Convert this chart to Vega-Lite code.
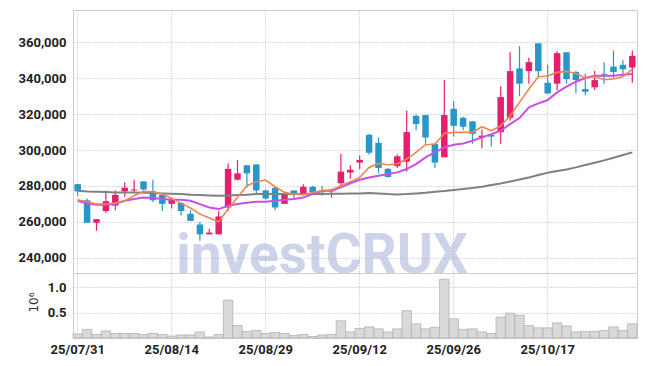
{
  "$schema": "https://vega.github.io/schema/vega-lite/v6.json",
  "padding": {"left": 17, "top": 9, "right": 9, "bottom": 5},
  "background": "white",
  "spacing": 0,
  "bounds": "flush",
  "config": {
    "view": {"stroke": "#cfcfcf", "strokeWidth": 1},
    "axis": {
      "labelFont": "Roboto", "labelFontSize": 13, "labelFontWeight": "bold", "labelColor": "#222222",
      "gridColor": "#b4b4c8", "gridDash": [1, 2], "gridWidth": 1,
      "ticks": false, "domain": false, "title": null
    }
  },
  "data": {"values": [
    {"date":"25/07/31","open":281000,"high":281000,"low":274500,"close":277000,"volume":80000,"ma5":272300,"ma20":271750,"ma60":277320},
    {"date":"25/08/01","open":272000,"high":273000,"low":259500,"close":259500,"volume":170000,"ma5":271190,"ma20":270260,"ma60":276950},
    {"date":"25/08/04","open":259500,"high":261500,"low":255000,"close":261500,"volume":70000,"ma5":269890,"ma20":269520,"ma60":276760},
    {"date":"25/08/05","open":266000,"high":277500,"low":265000,"close":271500,"volume":140000,"ma5":269890,"ma20":269520,"ma60":276570},
    {"date":"25/08/06","open":269000,"high":277500,"low":266500,"close":275000,"volume":90000,"ma5":270440,"ma20":269890,"ma60":276390},
    {"date":"25/08/07","open":277000,"high":282000,"low":274000,"close":279000,"volume":90000,"ma5":271750,"ma20":271750,"ma60":276390},
    {"date":"25/08/08","open":277500,"high":283500,"low":276000,"close":278000,"volume":90000,"ma5":274530,"ma20":272670,"ma60":276390},
    {"date":"25/08/11","open":282500,"high":282500,"low":277500,"close":278000,"volume":70000,"ma5":276950,"ma20":273600,"ma60":276200},
    {"date":"25/08/12","open":277000,"high":283500,"low":271000,"close":272000,"volume":90000,"ma5":276760,"ma20":273230,"ma60":276020},
    {"date":"25/08/13","open":275000,"high":275500,"low":266000,"close":270000,"volume":70000,"ma5":275460,"ma20":272670,"ma60":275830},
    {"date":"25/08/14","open":270000,"high":273500,"low":267500,"close":272500,"volume":40000,"ma5":273050,"ma20":272300,"ma60":275650},
    {"date":"25/08/18","open":270500,"high":271000,"low":263500,"close":266000,"volume":60000,"ma5":270260,"ma20":272300,"ma60":275460},
    {"date":"25/08/19","open":264500,"high":266500,"low":260500,"close":260500,"volume":60000,"ma5":267660,"ma20":271750,"ma60":275090},
    {"date":"25/08/20","open":258500,"high":260000,"low":249500,"close":253000,"volume":120000,"ma5":264310,"ma20":269890,"ma60":274900},
    {"date":"25/08/21","open":253000,"high":256000,"low":253000,"close":254000,"volume":20000,"ma5":262080,"ma20":268030,"ma60":274720},
    {"date":"25/08/22","open":253000,"high":266000,"low":253000,"close":263000,"volume":70000,"ma5":260040,"ma20":267100,"ma60":274530},
    {"date":"25/08/25","open":268000,"high":292500,"low":266000,"close":289500,"volume":750000,"ma5":267100,"ma20":268960,"ma60":274720},
    {"date":"25/08/26","open":283500,"high":294500,"low":283000,"close":287000,"volume":245000,"ma5":273600,"ma20":269890,"ma60":274900},
    {"date":"25/08/27","open":291500,"high":291500,"low":279000,"close":287000,"volume":130000,"ma5":280110,"ma20":270630,"ma60":275090},
    {"date":"25/08/28","open":292000,"high":292000,"low":276000,"close":277500,"volume":150000,"ma5":282340,"ma20":271190,"ma60":275460},
    {"date":"25/08/29","open":277500,"high":278000,"low":272500,"close":273000,"volume":90000,"ma5":283270,"ma20":271190,"ma60":275460},
    {"date":"25/09/01","open":279000,"high":279500,"low":266500,"close":268000,"volume":110000,"ma5":279550,"ma20":271750,"ma60":275460},
    {"date":"25/09/02","open":270000,"high":276500,"low":270000,"close":276000,"volume":90000,"ma5":276390,"ma20":272300,"ma60":275460},
    {"date":"25/09/03","open":277500,"high":277500,"low":272500,"close":275000,"volume":50000,"ma5":275460,"ma20":272670,"ma60":275460},
    {"date":"25/09/04","open":275500,"high":281000,"low":275000,"close":279500,"volume":70000,"ma5":275090,"ma20":273600,"ma60":275460},
    {"date":"25/09/05","open":279500,"high":280000,"low":275000,"close":276500,"volume":30000,"ma5":276390,"ma20":275460,"ma60":275460},
    {"date":"25/09/08","open":277500,"high":280000,"low":274500,"close":276500,"volume":60000,"ma5":277320,"ma20":277320,"ma60":275460},
    {"date":"25/09/09","open":277000,"high":278500,"low":273500,"close":278000,"volume":70000,"ma5":277690,"ma20":277320,"ma60":275650},
    {"date":"25/09/10","open":281500,"high":298000,"low":280000,"close":288000,"volume":340000,"ma5":280110,"ma20":279180,"ma60":275650},
    {"date":"25/09/11","open":287500,"high":291500,"low":284000,"close":289000,"volume":120000,"ma5":282340,"ma20":281410,"ma60":275830},
    {"date":"25/09/12","open":293000,"high":297000,"low":289500,"close":294500,"volume":190000,"ma5":284750,"ma20":283450,"ma60":275830},
    {"date":"25/09/15","open":308500,"high":309000,"low":297500,"close":298500,"volume":220000,"ma5":290330,"ma20":284750,"ma60":276020},
    {"date":"25/09/16","open":304000,"high":307000,"low":287000,"close":290000,"volume":180000,"ma5":292560,"ma20":285680,"ma60":275830},
    {"date":"25/09/17","open":289500,"high":290000,"low":284500,"close":285000,"volume":120000,"ma5":291810,"ma20":286610,"ma60":275460},
    {"date":"25/09/18","open":291000,"high":297500,"low":290000,"close":296500,"volume":180000,"ma5":292180,"ma20":287540,"ma60":275280},
    {"date":"25/09/19","open":293500,"high":322000,"low":288000,"close":310000,"volume":540000,"ma5":294970,"ma20":289400,"ma60":275460},
    {"date":"25/09/22","open":319000,"high":320000,"low":311000,"close":314500,"volume":280000,"ma5":298690,"ma20":292180,"ma60":275830},
    {"date":"25/09/23","open":319500,"high":319500,"low":303500,"close":307000,"volume":180000,"ma5":302960,"ma20":295900,"ma60":276200},
    {"date":"25/09/24","open":303500,"high":303500,"low":290000,"close":293000,"volume":210000,"ma5":303330,"ma20":298690,"ma60":276760},
    {"date":"25/09/25","open":296000,"high":339000,"low":296000,"close":319500,"volume":1160000,"ma5":309280,"ma20":301470,"ma60":277130},
    {"date":"25/09/26","open":323000,"high":327000,"low":307500,"close":313500,"volume":380000,"ma5":309830,"ma20":302960,"ma60":277690},
    {"date":"25/09/29","open":318000,"high":318500,"low":311000,"close":313000,"volume":170000,"ma5":309830,"ma20":303700,"ma60":278250},
    {"date":"25/09/30","open":316000,"high":316000,"low":303500,"close":309000,"volume":180000,"ma5":309830,"ma20":305190,"ma60":278800},
    {"date":"25/10/01","open":307000,"high":311500,"low":301000,"close":308000,"volume":120000,"ma5":312990,"ma20":307050,"ma60":279550},
    {"date":"25/10/02","open":308500,"high":308500,"low":302000,"close":307500,"volume":90000,"ma5":310760,"ma20":308900,"ma60":280480},
    {"date":"25/10/10","open":310000,"high":335500,"low":303500,"close":329500,"volume":410000,"ma5":313550,"ma20":310760,"ma60":281410},
    {"date":"25/10/13","open":318000,"high":354500,"low":316500,"close":344000,"volume":490000,"ma5":319120,"ma20":314480,"ma60":282520},
    {"date":"25/10/14","open":345500,"high":358000,"low":330000,"close":337000,"volume":450000,"ma5":326560,"ma20":317820,"ma60":283640},
    {"date":"25/10/15","open":344000,"high":351500,"low":337000,"close":349000,"volume":245000,"ma5":333990,"ma20":323770,"ma60":284750},
    {"date":"25/10/16","open":359500,"high":359500,"low":341000,"close":344000,"volume":200000,"ma5":340860,"ma20":326000,"ma60":286050},
    {"date":"25/10/17","open":337500,"high":347500,"low":331500,"close":331500,"volume":200000,"ma5":341230,"ma20":327860,"ma60":287350},
    {"date":"25/10/20","open":337000,"high":355000,"low":333500,"close":354000,"volume":300000,"ma5":343280,"ma20":332130,"ma60":288280},
    {"date":"25/10/21","open":354500,"high":354500,"low":337000,"close":339500,"volume":240000,"ma5":343840,"ma20":335290,"ma60":289210},
    {"date":"25/10/22","open":343500,"high":344000,"low":332000,"close":339000,"volume":120000,"ma5":342720,"ma20":338080,"ma60":290330},
    {"date":"25/10/23","open":334000,"high":342500,"low":330500,"close":332500,"volume":130000,"ma5":340120,"ma20":340120,"ma60":291620},
    {"date":"25/10/24","open":335000,"high":344000,"low":333500,"close":339000,"volume":130000,"ma5":340860,"ma20":341420,"ma60":292920},
    {"date":"25/10/27","open":342500,"high":349000,"low":337000,"close":342000,"volume":150000,"ma5":339190,"ma20":341420,"ma60":294230},
    {"date":"25/10/28","open":346500,"high":355500,"low":340000,"close":343500,"volume":220000,"ma5":339560,"ma20":341420,"ma60":295710},
    {"date":"25/10/29","open":347500,"high":350000,"low":341500,"close":345000,"volume":150000,"ma5":340860,"ma20":341980,"ma60":297200},
    {"date":"25/10/30","open":346000,"high":355500,"low":337500,"close":352500,"volume":280000,"ma5":345140,"ma20":342350,"ma60":298690}
  ]},
  "vconcat": [
    {
      "width": 564,
      "height": 263,
      "encoding": {
        "x": {
          "field": "date", "type": "ordinal",
          "scale": {"paddingInner": 0, "paddingOuter": 0},
          "axis": {"values": ["25/07/31","25/08/14","25/08/29","25/09/12","25/09/26","25/10/17"], "labels": false, "grid": true, "bandPosition": 0.5, "minExtent": 0, "maxExtent": 0}
        }
      },
      "layer": [
        {
          "data": {"values": [{"label": "investCRUX"}]},
          "mark": {"type": "text", "font": "Roboto", "fontWeight": "bold", "fontSize": 55, "color": "#acb6d9", "opacity": 0.6, "align": "center", "baseline": "alphabetic"},
          "encoding": {
            "x": {"datum": "25/09/08", "type": "ordinal"},
            "y": {
              "datum": 231470, "type": "quantitative",
              "scale": {"domain": [231470, 378060], "nice": false, "zero": false},
              "axis": {"values": [240000, 260000, 280000, 300000, 320000, 340000, 360000], "format": ",d", "grid": true, "labelPadding": 7, "minExtent": 54, "maxExtent": 54}
            },
            "text": {"field": "label"}
          }
        },
        {
          "mark": {"type": "rule", "strokeWidth": 1.2},
          "encoding": {
            "y": {"field": "low", "type": "quantitative"},
            "y2": {"field": "high"},
            "color": {"condition": {"test": "datum.close >= datum.open", "value": "#e61e6e"}, "value": "#2996c8"}
          }
        },
        {
          "mark": {"type": "bar", "size": 6.5},
          "encoding": {
            "y": {"field": "open", "type": "quantitative"},
            "y2": {"field": "close"},
            "color": {"condition": {"test": "datum.close >= datum.open", "value": "#e61e6e"}, "value": "#2996c8"}
          }
        },
        {
          "mark": {"type": "line", "color": "#808080", "strokeWidth": 2},
          "encoding": {"y": {"field": "ma60", "type": "quantitative"}}
        },
        {
          "mark": {"type": "line", "color": "#c84fe8", "strokeWidth": 2},
          "encoding": {"y": {"field": "ma20", "type": "quantitative"}}
        },
        {
          "mark": {"type": "line", "color": "#ee8650", "strokeWidth": 1.6},
          "encoding": {"y": {"field": "ma5", "type": "quantitative"}}
        }
      ]
    },
    {
      "width": 564,
      "height": 65,
      "mark": {"type": "bar", "fill": "#d9d9d9", "stroke": "#b3b3b3", "strokeWidth": 0.8},
      "encoding": {
        "x": {
          "field": "date", "type": "ordinal",
          "scale": {"paddingInner": 0, "paddingOuter": 0},
          "axis": {"values": ["25/07/31","25/08/14","25/08/29","25/09/12","25/09/26","25/10/17"], "labelAngle": 0, "grid": true, "bandPosition": 0.5, "labelPadding": 5}
        },
        "y": {
          "field": "volume", "type": "quantitative",
          "scale": {"domain": [0, 1285000], "nice": false},
          "axis": {"values": [500000, 1000000], "labelExpr": "format(datum.value / 1000000, '.1f')", "grid": true, "labelPadding": 7, "minExtent": 54, "maxExtent": 54,
                   "title": "10⁶", "titleX": -40, "titleY": 29, "titleAngle": -90, "titleFont": "DejaVu Sans", "titleFontSize": 12, "titleFontWeight": "normal", "titleColor": "#333333", "titleAlign": "center", "titleBaseline": "middle"}
        }
      }
    }
  ]
}
